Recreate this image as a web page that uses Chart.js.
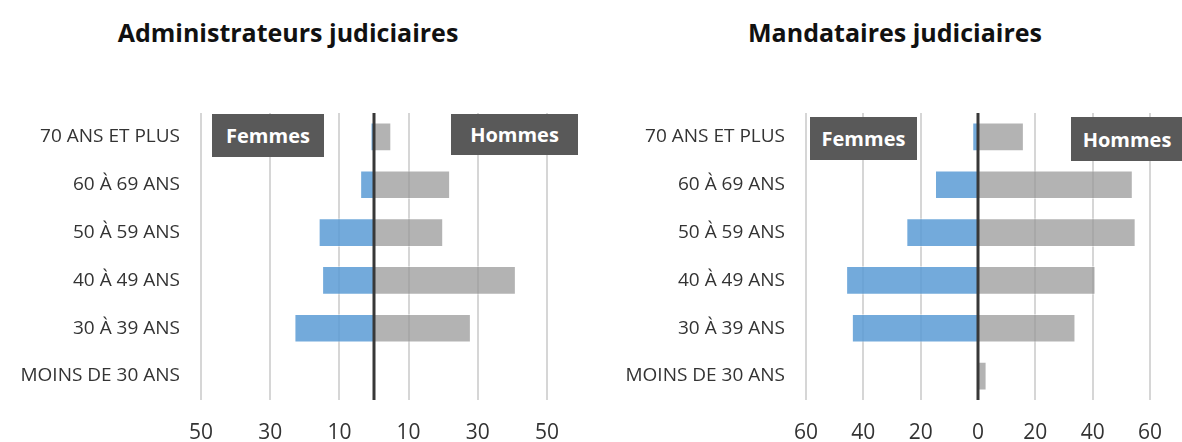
<!DOCTYPE html>
<html lang="fr">
<head>
    <meta charset="UTF-8">
    <title>Pyramide des âges</title>
    <script src="https://cdn.jsdelivr.net/npm/chart.js"></script>
    <style>
        html, body { margin: 0; padding: 0; background: #fff; }
        body { width: 1182px; height: 442px; position: relative; overflow: hidden; font-family: "Open Sans", sans-serif; }
        .titre { position: absolute; top: 14px; font-size: 25px; line-height: 36px; font-weight: 700; color: #111; text-align: center; white-space: nowrap; }
        .cadre { position: absolute; width: 591px; height: 442px; top: 0; }
        .etiquette { position: absolute; background: #595959; color: #fff; font-weight: 700; font-size: 20px;
                     display: flex; align-items: center; justify-content: center; box-sizing: border-box; }
    </style>
</head>
<body>
    <div class="titre" style="left:88px;width:400px;">Administrateurs judiciaires</div>
    <div class="titre" style="left:695px;width:400px;">Mandataires judiciaires</div>

    <div class="cadre" style="left:0;"><canvas id="chartAdmin"></canvas></div>
    <div class="cadre" style="left:591px;"><canvas id="chartMand"></canvas></div>

    <div class="etiquette" style="left:212px;top:114px;width:112px;height:43px;">Femmes</div>
    <div class="etiquette" style="left:451px;top:114px;width:127px;height:41px;">Hommes</div>
    <div class="etiquette" style="left:810px;top:117px;width:107px;height:43px;">Femmes</div>
    <div class="etiquette" style="left:1071px;top:117px;width:118px;height:44px;padding-right:6px;">Hommes</div>

    <script>
        const categories = ['70 ANS ET PLUS', '60 À 69 ANS', '50 À 59 ANS', '40 À 49 ANS', '30 À 39 ANS', 'MOINS DE 30 ANS'];

        // Administrateurs judiciaires
        const adminFemmes = [1, 4, 16, 15, 23, 0];
        const adminHommes = [5, 22, 20, 41, 28, 0];
        const adminTicks = [-50, -30, -10, 10, 30, 50];

        // Mandataires judiciaires
        const mandFemmes = [2, 15, 25, 46, 44, 0];
        const mandHommes = [16, 54, 55, 41, 34, 3];
        const mandTicks = [-60, -40, -20, 0, 20, 40, 60];

        // ligne verticale du zéro
        const zeroLine = {
            id: 'zeroLine',
            afterDatasetsDraw(chart) {
                const ctx = chart.ctx;
                const x = chart.scales.x.getPixelForValue(0);
                ctx.save();
                ctx.strokeStyle = '#383838';
                ctx.lineWidth = 3;
                ctx.beginPath();
                ctx.moveTo(x, chart.chartArea.top);
                ctx.lineTo(x, chart.chartArea.bottom);
                ctx.stroke();
                ctx.restore();
            }
        };

        function makeChart(id, femmes, hommes, ticks, yWidth, padRight) {
            const ctx = document.getElementById(id).getContext('2d');
            return new Chart(ctx, {
                type: 'bar',
                data: {
                    labels: categories,
                    datasets: [{
                        label: 'Femmes',
                        data: femmes.map(v => -v),
                        backgroundColor: 'rgba(91,155,213,0.85)',
                        borderColor: 'rgba(255,255,255,0.45)',
                        borderWidth: 1,
                        barPercentage: 0.6,
                        categoryPercentage: 1
                    }, {
                        label: 'Hommes',
                        data: hommes,
                        backgroundColor: 'rgba(150,150,150,0.72)',
                        borderColor: 'rgba(255,255,255,0.45)',
                        borderWidth: 1,
                        barPercentage: 0.6,
                        categoryPercentage: 1
                    }]
                },
                options: {
                    indexAxis: 'y',
                    responsive: true,
                    maintainAspectRatio: false,
                    animation: false,
                    layout: { padding: { top: 113, right: padRight, left: 0, bottom: 0 } },
                    plugins: {
                        legend: { display: false },
                        tooltip: { enabled: false }
                    },
                    scales: {
                        x: {
                            stacked: true,
                            min: ticks[0],
                            max: ticks[ticks.length - 1],
                            afterBuildTicks: (scale) => { scale.ticks = ticks.map(v => ({ value: v })); },
                            afterFit: (scale) => { scale.height = 42; },
                            border: { display: false },
                            grid: { color: '#d6d6d6', lineWidth: 2, drawTicks: false },
                            ticks: {
                                padding: 20,
                                color: '#333',
                                font: { family: 'Open Sans', size: 21 },
                                callback: (value) => Math.abs(value)
                            }
                        },
                        y: {
                            stacked: true,
                            afterFit: (scale) => { scale.width = yWidth; },
                            border: { display: false },
                            grid: { display: false, drawTicks: false },
                            ticks: {
                                padding: 21,
                                color: '#333',
                                font: { family: 'Open Sans', size: 19 }
                            }
                        }
                    }
                },
                plugins: [zeroLine]
            });
        }

        makeChart('chartAdmin', adminFemmes, adminHommes, adminTicks, 201, 44);
        makeChart('chartMand', mandFemmes, mandHommes, mandTicks, 215, 30);
    </script>
</body>
</html>
